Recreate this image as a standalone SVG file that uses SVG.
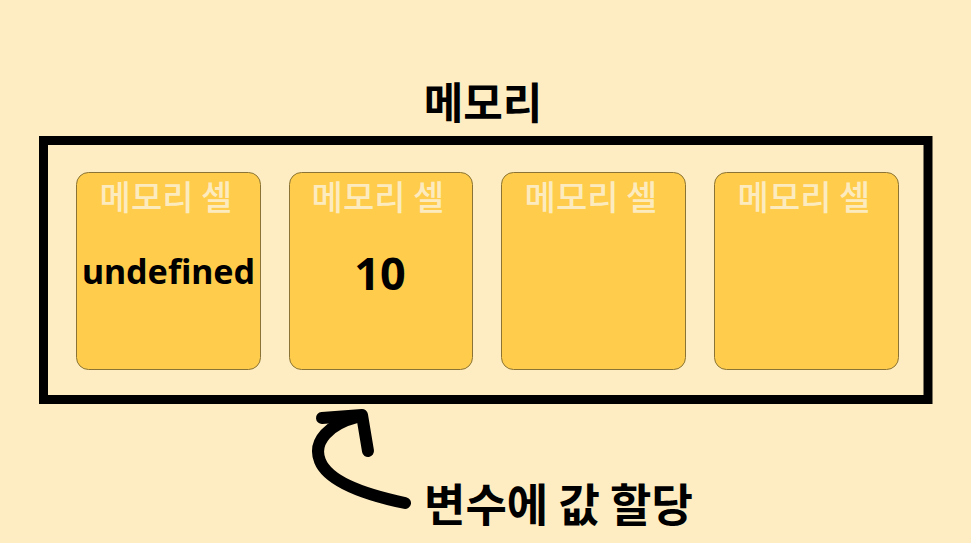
<svg xmlns="http://www.w3.org/2000/svg" width="971" height="543" viewBox="0 0 971 543">
<style>
.cell rect{fill:#FFCD4B;stroke:#8a7335;stroke-width:1}
.lbl{font-family:"Noto Sans CJK KR","Noto Sans",sans-serif;font-size:34px;font-weight:500;fill:#FDEBC0;text-anchor:middle}
.val{font-family:"Noto Sans","Noto Sans CJK KR",sans-serif;font-weight:bold;fill:#000;text-anchor:middle}
.title{font-family:"Noto Sans CJK KR",sans-serif;font-weight:bold;fill:#000}
</style>
<rect width="971" height="543" fill="#FEEDC3"/>
<g id="memory">
<rect x="43.5" y="140.5" width="884.5" height="259" fill="none" stroke="#000" stroke-width="9"/>
<text class="title" x="483" y="119" text-anchor="middle" font-size="43">메모리</text>
</g>
<g id="cell1" class="cell">
<rect x="76.5" y="172.5" width="184" height="197" rx="12"/>
<text class="lbl" x="166" y="210">메모리 셀</text>
<text class="val" x="168.5" y="284" font-size="34">undefined</text>
</g>
<g id="cell2" class="cell">
<rect x="289.5" y="172.5" width="183" height="197" rx="12"/>
<text class="lbl" x="378" y="210">메모리 셀</text>
<text class="val" x="380" y="290" font-size="45">10</text>
</g>
<g id="cell3" class="cell">
<rect x="501.5" y="172.5" width="184" height="197" rx="12"/>
<text class="lbl" x="591" y="210">메모리 셀</text>
</g>
<g id="cell4" class="cell">
<rect x="714.5" y="172.5" width="184" height="197" rx="12"/>
<text class="lbl" x="804" y="210">메모리 셀</text>
</g>
<g id="connectors">
<path d="M405 503 C362 494 328 481 320 461 C312 441 330 424 357 417" fill="none" stroke="#000" stroke-width="12" stroke-linecap="round"/>
<path d="M322 418 L362 415 L368 451" fill="none" stroke="#000" stroke-width="12" stroke-linecap="round" stroke-linejoin="round"/>
</g>
<g id="label">
<text class="title" x="424" y="522" font-size="45">변수에 값 할당</text>
</g>
</svg>
